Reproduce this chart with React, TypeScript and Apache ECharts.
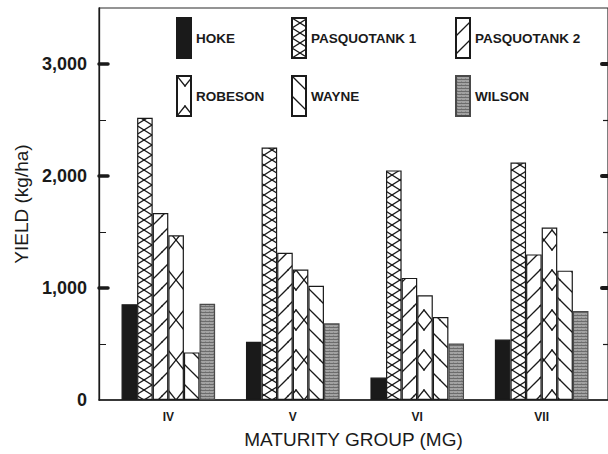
import React, { useEffect, useRef } from 'react';
import * as echarts from 'echarts';

const MG = ['IV', 'V', 'VI', 'VII'];
const MG_POS = [0, 1, 2, 3];
const NAMES = ['HOKE', 'PASQUOTANK 1', 'PASQUOTANK 2', 'ROBESON', 'WAYNE', 'WILSON'];
const HOKE = [855, 520, 200, 540];
const PASQUOTANK_1 = [2520, 2255, 2050, 2120];
const PASQUOTANK_2 = [1670, 1315, 1090, 1300];
const ROBESON = [1470, 1165, 935, 1540];
const WAYNE = [425, 1020, 740, 1155];
const WILSON = [860, 685, 505, 795];
const Y_LABELS = [0, 1000, 2000, 3000];
const Y_MAJOR = [1000, 2000, 3000];
const Y_MINOR = [500, 1500, 2500];

const FONT = '"Liberation Sans", Arial, sans-serif';
const INK = '#1a1a1a';

type Seg = [number, number, number, number];

function tile(w: number, h: number, segs: Seg[], bg = '#ffffff', stroke = INK, lw = 1.3) {
  const c = document.createElement('canvas');
  c.width = w;
  c.height = h;
  const ctx = c.getContext('2d')!;
  ctx.fillStyle = bg;
  ctx.fillRect(0, 0, w, h);
  ctx.strokeStyle = stroke;
  ctx.lineWidth = lw;
  ctx.lineCap = 'square';
  for (const dx of [-w, 0, w]) {
    for (const dy of [-h, 0, h]) {
      for (const s of segs) {
        ctx.beginPath();
        ctx.moveTo(s[0] + dx, s[1] + dy);
        ctx.lineTo(s[2] + dx, s[3] + dy);
        ctx.stroke();
      }
    }
  }
  return { image: c.toDataURL(), repeat: 'repeat', imageWidth: w, imageHeight: h } as any;
}

function grayTile() {
  const c = document.createElement('canvas');
  c.width = 4;
  c.height = 3;
  const ctx = c.getContext('2d')!;
  ctx.fillStyle = '#a2a2a2';
  ctx.fillRect(0, 0, 4, 3);
  ctx.fillStyle = '#6c6c6c';
  ctx.fillRect(0, 0, 4, 1);
  ctx.fillStyle = '#8a8a8a';
  ctx.fillRect(1, 2, 1, 1);
  return { image: c.toDataURL(), repeat: 'repeat', imageWidth: 4, imageHeight: 3 } as any;
}

export default function App() {
  const ref = useRef<HTMLDivElement>(null);

  useEffect(() => {
    if (!ref.current) return;
    const chart = echarts.init(ref.current, undefined, { renderer: 'svg' });

    const pCross = tile(16, 20, [
      [0, 0, 16, 10], [16, 10, 0, 20], [16, 0, 0, 10], [0, 10, 16, 20],
    ]);
    const pSlash = tile(18, 18, [[0, 18, 18, 0]]);
    const pSparse = tile(16, 40, [
      [0, 0, 8, 10], [8, 10, 16, 0], [0, 40, 8, 30], [8, 30, 16, 40],
    ]);
    const pBack = tile(20, 20, [[0, 0, 20, 20]]);
    const pGray = grayTile();

    const fills: any[] = [INK, pCross, pSlash, pSparse, pBack, pGray];
    const borders = [INK, INK, INK, INK, INK, '#4a4a4a'];
    const values = [HOKE, PASQUOTANK_1, PASQUOTANK_2, ROBESON, WAYNE, WILSON];

    const series = NAMES.map((name, k) => ({
      type: 'bar',
      name,
      data: values[k].map((v, i) => [MG_POS[i], v]),
      barWidth: 15.6,
      barGap: '0%',
      itemStyle: { color: fills[k], borderColor: borders[k], borderWidth: 1.2 },
      emphasis: { disabled: true },
    }));

    const yBase = {
      type: 'value',
      min: 0,
      max: 3500,
      interval: 500,
      splitLine: { show: false },
    };

    const legendBase = {
      orient: 'vertical',
      top: 17,
      itemWidth: 14,
      itemHeight: 40,
      itemGap: 16,
      padding: 0,
      icon: 'rect',
      selectedMode: false,
      textStyle: { fontSize: 13.5, fontWeight: 'bold', color: INK, fontFamily: FONT },
    };

    chart.setOption({
      animation: false,
      textStyle: { fontFamily: FONT },
      grid: {
        left: 99,
        top: 8,
        width: 510,
        height: 398.5,
        show: true,
        borderColor: '#2a2a2a',
        borderWidth: 1.2,
        backgroundColor: 'transparent',
      },
      legend: [
        { ...legendBase, left: 176, data: ['HOKE', 'ROBESON'] },
        { ...legendBase, left: 291, data: ['PASQUOTANK 1', 'WAYNE'] },
        { ...legendBase, left: 455, data: ['PASQUOTANK 2', 'WILSON'] },
      ],
      xAxis: {
        type: 'value',
        min: -0.557,
        max: 3.533,
        axisLine: { show: true, onZero: false, lineStyle: { color: INK, width: 1.5 } },
        axisTick: { show: false },
        splitLine: { show: false },
        axisLabel: {
          customValues: MG_POS,
          formatter: (v: number) => MG[Math.round(v)] ?? '',
          fontSize: 12,
          fontWeight: 'bold',
          color: INK,
          margin: 11,
          fontFamily: FONT,
        },
        name: 'MATURITY GROUP (MG)',
        nameLocation: 'middle',
        nameGap: 30,
        nameTextStyle: { fontSize: 19, color: INK, fontFamily: FONT },
      },
      yAxis: [
        {
          ...yBase,
          position: 'left',
          axisLine: { show: true, onZero: false, lineStyle: { color: INK, width: 1.3 } },
          axisTick: { show: true, inside: true, length: 7, customValues: Y_MINOR, lineStyle: { color: INK, width: 1 } },
          axisLabel: {
            customValues: Y_LABELS,
            formatter: (v: number) => v.toLocaleString('en-US'),
            fontSize: 18,
            fontWeight: 'bold',
            color: INK,
            margin: 12,
            fontFamily: FONT,
          },
          name: 'YIELD (kg/ha)',
          nameLocation: 'middle',
          nameGap: 66,
          nameTextStyle: { fontSize: 19, color: INK, fontFamily: FONT },
        },
        {
          ...yBase,
          position: 'left',
          axisLine: { show: false, onZero: false },
          axisLabel: { show: false },
          axisTick: { show: true, inside: true, length: 9, customValues: Y_MAJOR, lineStyle: { color: INK, width: 3.5, cap: 'round' } },
        },
        {
          ...yBase,
          position: 'right',
          axisLine: { show: false, onZero: false },
          axisLabel: { show: false },
          axisTick: { show: true, inside: true, length: 5, customValues: Y_MINOR, lineStyle: { color: INK, width: 1.2 } },
        },
        {
          ...yBase,
          position: 'right',
          axisLine: { show: false, onZero: false },
          axisLabel: { show: false },
          axisTick: { show: true, inside: true, length: 6, customValues: Y_MAJOR, lineStyle: { color: INK, width: 4, cap: 'round' } },
        },
      ],
      series,
    });

    return () => chart.dispose();
  }, []);

  return (
    <div
      ref={ref}
      style={{ position: 'fixed', left: 0, top: 0, width: 608, height: 454, background: '#ffffff' }}
    />
  );
}
